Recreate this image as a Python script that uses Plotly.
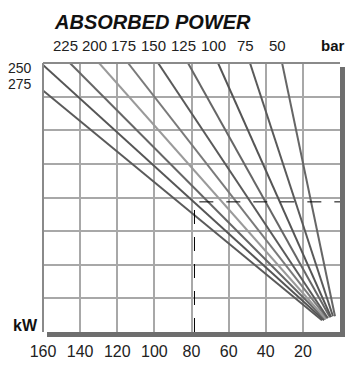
import plotly.graph_objects as go

# ---- data ----
pressure_labels = ["275", "250", "225", "200", "175", "150", "125", "100", "75", "50"]
start_x = [160, 160, 145.5, 129.8, 114.2, 98.0, 81.9, 65.7, 48.5, 31.2]
start_y = [7.18, 7.94, 8, 8, 8, 8, 8, 8, 8, 8]
end_x = [9.7, 8.6, 8.1, 7.5, 7.0, 6.5, 5.4, 4.8, 3.8, 2.7]
end_y = [0.35, 0.35, 0.38, 0.38, 0.41, 0.41, 0.44, 0.44, 0.47, 0.47]
line_colors = ["#5a5a5a", "#555555", "#666666", "#9a9a9a", "#7a7a7a",
               "#5a5a5a", "#666666", "#555555", "#5a5a5a", "#666666"]

bottom_ticks = [160, 140, 120, 100, 80, 60, 40, 20]
reading_x = 78.4
reading_y = 3.87

FONT = "Liberation Sans Narrow, Liberation Sans, Arial, sans-serif"

fig = go.Figure()

for lbl, x0, y0, x1, y1, c in zip(pressure_labels, start_x, start_y, end_x, end_y, line_colors):
    fig.add_trace(go.Scatter(x=[x0, x1], y=[y0, y1], mode="lines",
                             line=dict(color=c, width=2), name=lbl,
                             hoverinfo="skip", showlegend=False))

# dashed reading lines
fig.add_trace(go.Scatter(x=[reading_x, reading_x, 0], y=[0, reading_y, reading_y],
                         mode="lines", line=dict(color="black", width=1, dash="14px,13px"),
                         hoverinfo="skip", showlegend=False))

annotations = []
# top pressure labels (above starting points on top edge)
for lbl, x0, y0 in zip(pressure_labels, start_x, start_y):
    if y0 >= 8:
        annotations.append(dict(x=x0 + 2.5, xref="x", y=1.066, yref="paper",
                                text=lbl, showarrow=False,
                                font=dict(size=15, color="#222", family=FONT),
                                xanchor="center", yanchor="middle"))
# left-side labels for the lines starting on the left edge
left_label_y = {"250": 7.85, "275": 7.39}
for lbl, x0, y0 in zip(pressure_labels, start_x, start_y):
    if y0 < 8:
        annotations.append(dict(x=0, xref="paper", y=left_label_y[lbl], yref="y",
                                text=lbl, showarrow=False, xshift=-9,
                                font=dict(size=14, color="#222", family=FONT),
                                xanchor="right", yanchor="middle"))

annotations += [
    dict(x=0.37, xref="paper", y=1.154, yref="paper", text="<b><i>ABSORBED POWER</i></b>",
         showarrow=False, font=dict(size=20, color="#111", family="Liberation Sans, Arial, sans-serif"),
         xanchor="center", yanchor="middle"),
    dict(x=0.976, xref="paper", y=1.066, yref="paper", text="<b>bar</b>",
         showarrow=False, font=dict(size=15, color="#111", family="Liberation Sans, Arial, sans-serif"),
         xanchor="center", yanchor="middle"),
    dict(x=-0.0606, xref="paper", y=0.0256, yref="paper", text="<b>kW</b>",
         showarrow=False, font=dict(size=16, color="#111", family="Liberation Sans, Arial, sans-serif"),
         xanchor="center", yanchor="middle"),
]

shapes = [
    # left and top border
    dict(type="line", xref="paper", yref="paper", x0=0, x1=0, y0=0, y1=1,
         line=dict(color="#8a8a8a", width=2)),
    dict(type="line", xref="paper", yref="paper", x0=0, x1=1, y0=1, y1=1,
         line=dict(color="#8a8a8a", width=2)),
    # drop shadow right and bottom
    dict(type="rect", xref="paper", yref="paper", x0=1.0, x1=1.0168, y0=-0.0183, y1=0.985,
         fillcolor="#6e6e6e", line=dict(width=0)),
    dict(type="rect", xref="paper", yref="paper", x0=0.0135, x1=1.0168, y0=-0.0183, y1=0.0,
         fillcolor="#6e6e6e", line=dict(width=0)),
]

fig.update_layout(
    width=345, height=365,
    margin=dict(l=43, r=5, t=63, b=29),
    paper_bgcolor="white", plot_bgcolor="white",
    showlegend=False,
    annotations=annotations, shapes=shapes,
    xaxis=dict(range=[160, 0], tickvals=bottom_ticks, ticks="", showline=False,
               showgrid=True, gridcolor="#a8a8a8", gridwidth=1.5, zeroline=False,
               ticklabelstandoff=8,
               tickfont=dict(size=16, color="#222", family=FONT), fixedrange=True),
    yaxis=dict(range=[0, 8], dtick=1, showticklabels=False, ticks="", showline=False,
               showgrid=True, gridcolor="#a8a8a8", gridwidth=1.5, zeroline=False,
               fixedrange=True),
)

fig.write_html("out.html", config={"displayModeBar": False},
               post_script="document.body.style.margin='0';document.body.style.padding='0';document.body.style.overflow='hidden';")
